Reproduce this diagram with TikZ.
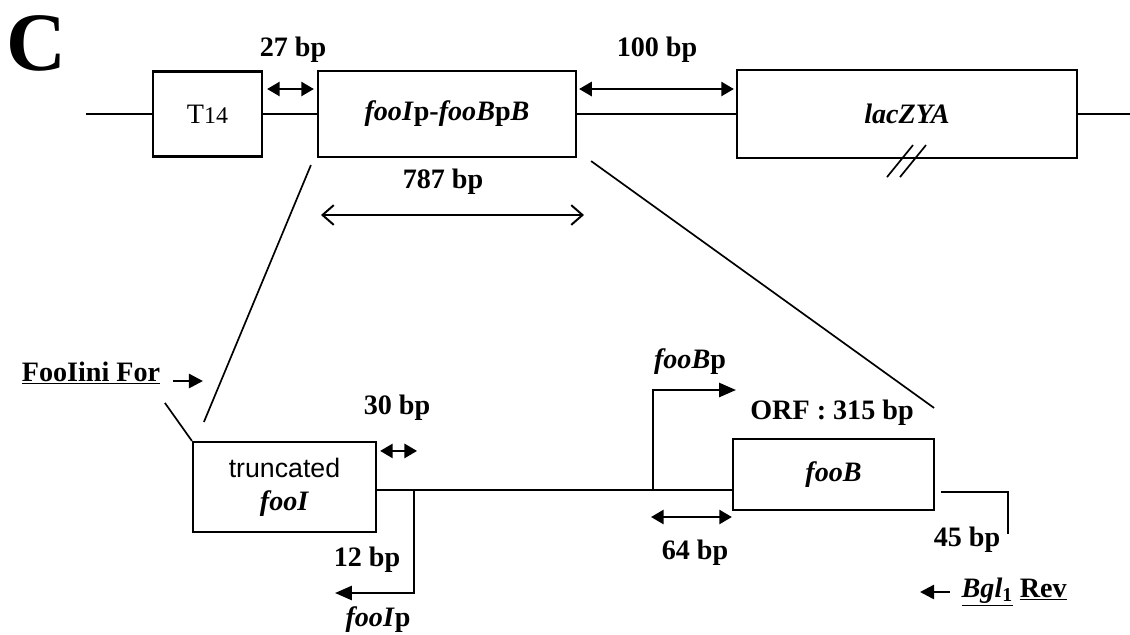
\documentclass[tikz,border=0pt]{standalone}
\usepackage{fontspec}
\setmainfont{Liberation Serif}
\newfontfamily\arialfont{Liberation Sans}
\usetikzlibrary{arrows.meta,positioning}
\newcommand{\bpfont}{\fontsize{20}{22}\selectfont\rmfamily\bfseries}
\tikzset{
    gene box/.style={
        draw=black,
        line width=1.5pt,
        align=center,
        inner sep=0pt,
        font=\bpfont
    },
    bp label/.style={font=\bpfont, inner sep=1pt},
    dna line/.style={line width=1.6pt},
    thin line/.style={line width=1.2pt},
    span arrow/.style={{Triangle[length=9pt,width=10pt]}-{Triangle[length=9pt,width=10pt]}, line width=1.8pt},
    wide span/.style={{Straight Barb[length=8pt,width=14pt]}-{Straight Barb[length=8pt,width=14pt]}, line width=1.4pt},
    promoter arrow/.style={-{Triangle[length=12pt,width=10pt]}, line width=1.6pt},
    primer arrow/.style={-{Triangle[length=10pt,width=10pt]}, line width=1.8pt}
}

\begin{document}
\begin{tikzpicture}[x=0.025cm, y=-0.025cm]
\useasboundingbox (0,0) rectangle (1130,634);

\node[font=\fontsize{59}{59}\selectfont\bfseries] (panel) at (36,43) {C};

% construct on the chromosome
\node[gene box, font=\fontsize{20}{22}\selectfont, minimum width=2.725cm, minimum height=2.125cm] (t14) at (207.5,114) {T{\fontsize{17}{20}\selectfont 14}};
\node[gene box, minimum width=6.45cm, minimum height=2.15cm] (fooip) at (447,114) {\textit{fooI}p-\textit{fooB}p\textit{B}};
\node[gene box, minimum width=8.5cm, minimum height=2.2cm] (lac) at (907,114) {\textit{lacZYA}};
\coordinate (lstart) at (86,114);
\coordinate (lend) at (1130,114);
\draw[dna line] (lstart) -- (t14.west);
\draw[dna line] (t14.east) -- (fooip.west);
\draw[dna line] (fooip.east) -- (lac.west);
\draw[dna line] (lac.east) -- (lend);
\foreach \dx in {0,13}
    \draw[thin line] ([shift={(-20+\dx,18)}]lac.south) -- ++(26,-32);

\draw[span arrow] ([shift={(4,-25)}]t14.east) -- ([shift={(-3,-25)}]fooip.west);
\node[bp label] (bp27) at (293,50) {27 bp};
\draw[span arrow] ([shift={(2,-25)}]fooip.east) -- ([shift={(-2,-25)}]lac.west);
\node[bp label] (bp100) at (657,50) {100 bp};

\coordinate (spanl) at (321,215);
\coordinate (spanr) at (584,215);
\draw[wide span] (spanl) -- (spanr);
\node[bp label] (bp787) at (443,182) {787 bp};

% zoom on the insert
\node[gene box, font=\arialfont\fontsize{19}{23.5}\selectfont, minimum width=4.575cm, minimum height=2.25cm] (trunc) at (284.5,487) {truncated\\{\bpfont\textit{fooI}}};
\node[gene box, minimum width=5.025cm, minimum height=1.775cm] (fooB) at (833.5,474.5) {\textit{fooB}};
\node[bp label] (orf) at (832,413) {ORF : 315 bp};

\draw[thin line] ([shift={(-6,7)}]fooip.south west) -- ([shift={(12,-19)}]trunc.north west);
\draw[thin line] ([shift={(14,3)}]fooip.south east) -- ([shift={(-1,-30)}]fooB.north east);

\coordinate (pI) at (414,490);
\coordinate (pB) at (653,490);
\draw[dna line] (trunc.east |- pI) -- (fooB.west |- pI);

% promoters
\coordinate (pIend) at (335,593);
\draw[promoter arrow] (pI) |- (pIend);
\node[bp label] (bp12) at (367,560) {12 bp};
\node[bp label] (fooIp) at (378,620) {\textit{fooI}p};
\coordinate (pBend) at (736,390);
\draw[promoter arrow] (pB) |- (pBend);
\node[bp label] (fooBp) at (690,362) {\textit{fooB}p};

\draw[span arrow] ([shift={(3,10)}]trunc.north east) -- ([shift={(40,10)}]trunc.north east);
\node[bp label] (bp30) at (397,408) {30 bp};

\coordinate (pBa) at ([shift={(-2,27)}]pB);
\draw[span arrow] (pBa) -- (pBa -| fooB.west);
\node[bp label] (bp64) at (695,553) {64 bp};

\draw[dna line] ([shift={(6,17.5)}]fooB.east) -- ++(67,0) -- ++(0,42);
\node[bp label] (bp45) at (967,540) {45 bp};

% primers
\node[bp label] (fwd) at (91,373) {\underline{FooIini For}};
\coordinate (fwdtail) at (173,381);
\draw[primer arrow] (fwdtail) -- ++(30,0);
\draw[thin line] (trunc.north west) -- ++(-27,-38);

\node[bp label, anchor=west] (rev) at (960,592) {\underline{\textit{Bgl}\textsubscript{1}}\ \underline{Rev}};
\draw[primer arrow] ([shift={(-10,0)}]rev.west) -- ++(-30,0);
\end{tikzpicture}
\end{document}
